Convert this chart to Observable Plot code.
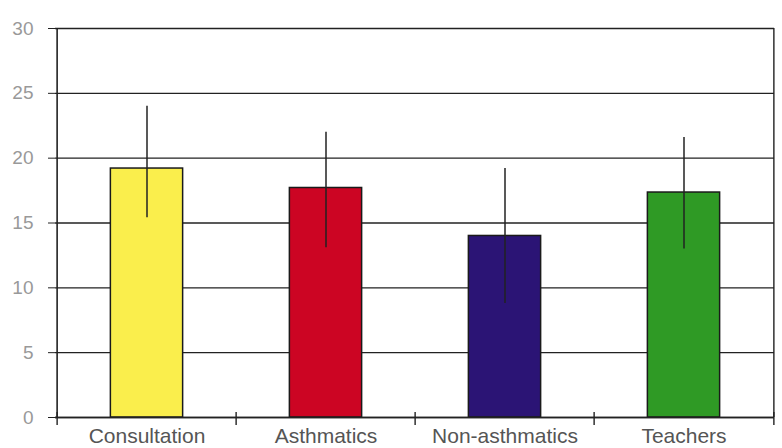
<!DOCTYPE html>
<html>
<head>
<meta charset="utf-8">
<script src="https://cdn.jsdelivr.net/npm/d3@7"></script>
<script src="https://cdn.jsdelivr.net/npm/@observablehq/plot@0.6"></script>
<style>
  html, body { margin: 0; padding: 0; background: #fff; }
  #chart svg { display: block; }
</style>
</head>
<body>
<div id="chart"></div>
<script>
const categories = ["Consultation", "Asthmatics", "Non-asthmatics", "Teachers"];
const means = [19.2, 17.7, 14.0, 17.35];
const errLow = [15.4, 13.1, 8.8, 13.0];
const errHigh = [24.0, 22.0, 19.2, 21.6];
const yTicks = [0, 5, 10, 15, 20, 25, 30];

const data = categories.map((c, i) => ({cat: c, mean: means[i], lo: errLow[i], hi: errHigh[i]}));

const W = 782, H = 448;
const mL = 55, mR = 8, mT = 28, mB = 31;
const step = (W - mL - mR) / categories.length;
const barW = 73;
const inset = (step - barW) / 2;

const chart = Plot.plot({
  width: W,
  height: H,
  marginLeft: mL,
  marginRight: mR,
  marginTop: mT,
  marginBottom: mB,
  style: {fontFamily: "'Liberation Sans', Arial, sans-serif", background: "#fff"},
  x: {type: "band", domain: categories, padding: 0},
  y: {domain: [0, 30]},
  color: {domain: categories, range: ["#faee4c", "#cc0523", "#2b1475", "#2f9a25"]},
  marks: [
    Plot.ruleY(yTicks, {stroke: "#222", strokeWidth: 1.4}),
    Plot.axisY({ticks: yTicks, tickSize: 7, tickPadding: 15, stroke: "#222", fill: "#999", fontSize: 19, tickFormat: d => String(d)}),
    Plot.axisX({tickSize: 0, tickPadding: 11, fill: "#555", fontSize: 21, label: null}),
    Plot.barY(data, {x: "cat", y: "mean", fill: "cat", stroke: "#1a1a1a", strokeWidth: 1.5, insetLeft: inset, insetRight: inset}),
    Plot.ruleX(data, {x: "cat", y1: "lo", y2: "hi", stroke: "#222", strokeWidth: 1.5}),
    Plot.ruleX(categories, {x: d => d, y1: 0, y2: 0, dx: -step / 2, insetTop: -5, insetBottom: -8, stroke: "#222", strokeWidth: 1.4}),
    Plot.ruleX(categories.slice(-1), {x: d => d, y1: 0, y2: 0, dx: step / 2, insetTop: -5, insetBottom: -8, stroke: "#222", strokeWidth: 1.4}),
    Plot.ruleX(categories.slice(-1), {x: d => d, y1: 0, y2: 30, dx: step / 2, stroke: "#222", strokeWidth: 1.4}),
    Plot.ruleX(categories.slice(0, 1), {x: d => d, y1: 0, y2: 30, dx: -step / 2, stroke: "#222", strokeWidth: 1.6}),
    Plot.ruleY([0], {stroke: "#222", strokeWidth: 1.6})
  ]
});
document.getElementById("chart").appendChild(chart);
</script>
</body>
</html>
